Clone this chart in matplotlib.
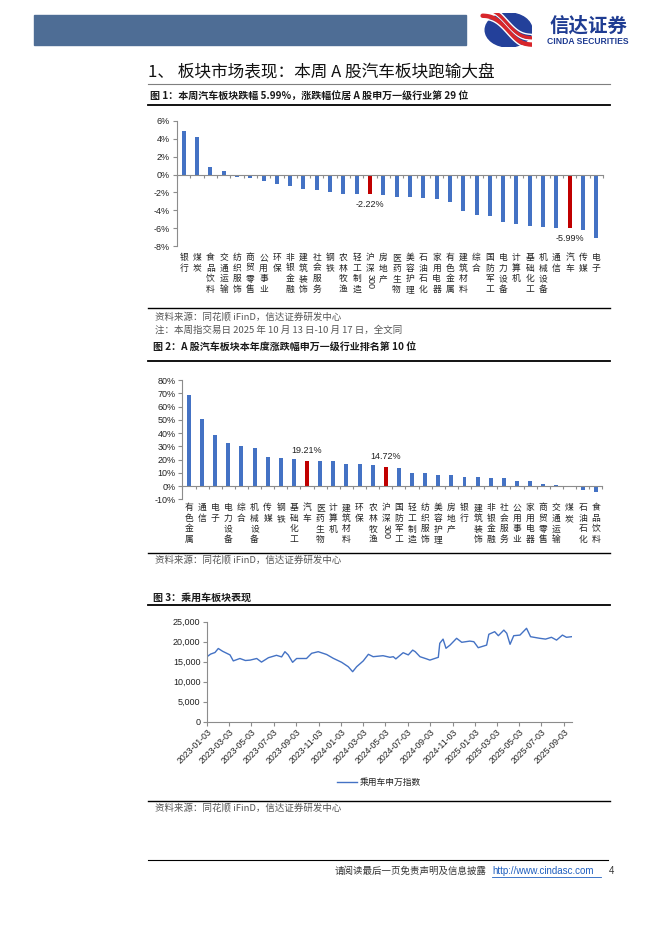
import numpy as np
import pandas as pd
import matplotlib
matplotlib.use('Agg')
import matplotlib.pyplot as plt
from matplotlib.lines import Line2D
from matplotlib.patches import Rectangle, Ellipse

# ---- data ----
cats1 = ['银行', '煤炭', '食品饮料', '交通运输', '纺织服饰', '商贸零售', '公用事业', '环保',
         '非银金融', '建筑装饰', '社会服务', '钢铁', '农林牧渔', '轻工制造', '沪深300', '房地产',
         '医药生物', '美容护理', '石油石化', '家用电器', '有色金属', '建筑材料', '综合', '国防军工',
         '电力设备', '计算机', '基础化工', '机械设备', '通信', '汽车', '传媒', '电子']
vals1 = [4.9, 4.2, 0.9, 0.42, -0.26, -0.38, -0.72, -1.02, -1.32, -1.62, -1.74, -1.92, -2.15,
         -2.2, -2.22, -2.3, -2.49, -2.5, -2.6, -2.72, -3.02, -4.08, -4.53, -4.68, -5.32, -5.55,
         -5.77, -5.89, -5.96, -5.99, -6.23, -7.09]

cats2 = ['有色金属', '通信', '电子', '电力设备', '综合', '机械设备', '传媒', '钢铁', '基础化工', '汽车',
         '医药生物', '计算机', '建筑材料', '环保', '农林牧渔', '沪深300', '国防军工', '轻工制造',
         '纺织服饰', '美容护理', '房地产', '银行', '建筑装饰', '非银金融', '社会服务', '公用事业',
         '家用电器', '商贸零售', '交通运输', '煤炭', '石油石化', '食品饮料']
vals2 = [69.0, 50.3, 38.8, 32.3, 30.0, 28.5, 21.8, 21.0, 20.3, 19.21, 19.0, 18.9, 16.5, 16.4,
         15.8, 14.72, 13.5, 9.8, 9.7, 8.3, 8.2, 6.8, 6.7, 6.0, 5.9, 3.8, 3.7, 1.8, 0.5, -0.1,
         -2.8, -4.5]

highlight = ['汽车', '沪深300']

dates3 = ['2023-01-03', '2023-01-12', '2023-01-24', '2023-02-02', '2023-02-14', '2023-03-06',
          '2023-03-15', '2023-04-02', '2023-04-17', '2023-04-30', '2023-05-18', '2023-05-31',
          '2023-06-19', '2023-07-11', '2023-07-25', '2023-08-03', '2023-08-12', '2023-08-24',
          '2023-09-04', '2023-10-01', '2023-10-15', '2023-11-02', '2023-11-25', '2023-12-13',
          '2024-01-05', '2024-01-23', '2024-02-04', '2024-02-15', '2024-03-04', '2024-03-18',
          '2024-03-31', '2024-04-27', '2024-05-16', '2024-05-25', '2024-06-01', '2024-06-21',
          '2024-07-05', '2024-07-17', '2024-07-24', '2024-08-06', '2024-08-24', '2024-09-02',
          '2024-09-25', '2024-09-29', '2024-10-08', '2024-10-16', '2024-10-27', '2024-11-14',
          '2024-11-28', '2024-12-20', '2024-12-31', '2025-01-12', '2025-02-04', '2025-02-10',
          '2025-02-26', '2025-03-08', '2025-03-23', '2025-03-31', '2025-04-09', '2025-04-19',
          '2025-05-06', '2025-05-24', '2025-06-04', '2025-06-29', '2025-07-15', '2025-07-31',
          '2025-08-14', '2025-08-30', '2025-09-10', '2025-09-24']
vals3 = [16300, 16900, 17300, 18300, 17600, 16700, 15200, 15800, 15300, 15400, 15800, 14900,
         16000, 16600, 16200, 17500, 16700, 14850, 15800, 15800, 17100, 17500, 16800, 15850,
         14850, 13750, 12500, 13750, 15200, 16850, 16250, 16500, 16100, 16250, 15700, 17250,
         16700, 17900, 17500, 16250, 15700, 15400, 16100, 19600, 20650, 18350, 19150, 20850,
         19850, 20150, 20000, 18500, 19150, 21850, 22500, 21500, 22900, 22100, 19350, 21500,
         21650, 23350, 21250, 20850, 20650, 21100, 20400, 21650, 21100, 21250]
ticks3 = ['2023-01-03', '2023-03-03', '2023-05-03', '2023-07-03', '2023-09-03', '2023-11-03',
          '2024-01-03', '2024-03-03', '2024-05-03', '2024-07-03', '2024-09-03', '2024-11-03',
          '2025-01-03', '2025-03-03', '2025-05-03', '2025-07-03', '2025-09-03']

# ---- page setup ----
W, H = 662, 936
CJK = ['Noto Sans CJK SC', 'DejaVu Sans']
plt.rcParams['font.family'] = ['Liberation Sans', 'Noto Sans CJK SC']
BLUE = '#4472c4'
RED = '#c00000'
AXC = '#8c8c8c'

fig = plt.figure(figsize=(W / 100, H / 100), dpi=100)


def fx(x):
    return x / W


def fy(y):
    return 1 - y / H


def add_ax(l, t, r, b):
    return fig.add_axes([fx(l), fy(b), (r - l) / W, (b - t) / H])


def hline(y, x0=148, x1=610, color='black', lw=1.0):
    fig.add_artist(Line2D([fx(x0), fx(x1)], [fy(y), fy(y)], color=color, lw=lw))


def ftext(x, y, s, **kw):
    kw.setdefault('family', CJK)
    kw.setdefault('va', 'center')
    fig.text(fx(x), fy(y), s, **kw)


def cat_labels(ax, cats, top_px):
    step = 10.6 * 0.72
    for i, name in enumerate(cats):
        k = 0.0
        j = 0
        while j < len(name):
            if name[j].isdigit():
                num = ''
                while j < len(name) and name[j].isdigit():
                    num += name[j]
                    j += 1
                ax.annotate(num, xy=(i, 0), xycoords=('data', 'axes fraction'),
                            xytext=(0, -top_px * 0.72 - k * step), textcoords='offset points',
                            rotation=-90, ha='center', va='top', fontsize=6.5, color='#222222')
                k += len(num) * 0.6
            else:
                ax.annotate(name[j], xy=(i, 0), xycoords=('data', 'axes fraction'),
                            xytext=(0, -top_px * 0.72 - k * step), textcoords='offset points',
                            ha='center', va='top', fontsize=6.3, family=CJK, color='#222222')
                k += 1
                j += 1


def bar_chart(ax, cats, vals, ymin, ymax, ystep, top_px):
    n = len(cats)
    colors = [RED if c in highlight else BLUE for c in cats]
    ax.bar(np.arange(n), vals, width=0.3, color=colors, zorder=2)
    ax.set_xlim(-0.5, n - 0.5)
    ax.set_ylim(ymin, ymax)
    ax.set_yticks(np.arange(ymin, ymax + ystep / 2, ystep))
    ax.set_yticklabels(['%d%%' % v for v in np.arange(ymin, ymax + ystep / 2, ystep)])
    ax.set_xticks(np.arange(n + 1) - 0.5)
    ax.set_xticklabels([])
    for s in ['top', 'right']:
        ax.spines[s].set_visible(False)
    ax.spines['bottom'].set_position(('data', 0))
    for s in ['left', 'bottom']:
        ax.spines[s].set_color(AXC)
        ax.spines[s].set_linewidth(0.8)
    ax.tick_params(axis='y', length=3, width=0.8, color=AXC, labelsize=6.5, pad=2,
                   labelcolor='#222222')
    ax.tick_params(axis='x', length=2.5, width=0.8, color=AXC, direction='out')
    ax.set_facecolor('none')
    cat_labels(ax, cats, top_px)
    for c, v in zip(cats, vals):
        if c in highlight:
            i = cats.index(c)
            off = 4 if v > 0 else -4
            ax.annotate('%.2f%%' % v, xy=(i, v), xytext=(0, off), textcoords='offset points',
                        ha='center', va='bottom' if v > 0 else 'top', fontsize=6.5,
                        color='#222222')


# ---- header ----
fig.add_artist(Rectangle((fx(34), fy(45)), (466 - 34) / W, 30 / H, color='#4e6d95',
                         transform=fig.transFigure))
logo = fig.add_axes([fx(480), fy(47), 52 / W, 34 / H])
logo.set_xlim(0, 1)
logo.set_ylim(0, 1)
logo.axis('off')
logo.add_patch(Ellipse((0.55, 0.5), 0.9, 1.0, color='#23409a'))
t = np.linspace(0, 1, 60)
for d, c, lw in [(0.0, '#d7262b', 3.2), (0.13, 'white', 1.2), (0.2, '#d7262b', 2.4),
                 (0.3, 'white', 1.0), (-0.1, 'white', 1.0)]:
    logo.plot(0.05 + 0.95 * t, 0.92 - 0.85 * t + 0.12 * np.sin(2 * np.pi * t) + d,
              color=c, lw=lw, solid_capstyle='round')
ftext(588, 26, '信达证券', fontsize=14, weight='bold', color='#1f3c92', ha='center')
fig.text(fx(588), fy(42), 'CINDA SECURITIES', fontsize=6.2, weight='bold', color='#1f3c92',
         ha='center', va='center', family=['Liberation Sans'])

# ---- section title ----
ftext(148, 73, '1、 板块市场表现：本周 A 股汽车板块跑输大盘', fontsize=12, color='#111111')
hline(84, color='#7f7f7f', lw=0.8)

# ---- figure 1 ----
ftext(150, 97, '图 1：本周汽车板块跌幅 5.99%，涨跌幅位居 A 股申万一级行业第 29 位', fontsize=7.2,
      weight='bold', color='#1a1a1a')
hline(104.5, lw=1.3)
ax1 = add_ax(177, 121, 603, 246)
bar_chart(ax1, cats1, vals1, -8, 6, 2, 7)
hline(308, lw=1.0)
ftext(155, 317, '资料来源：同花顺 iFinD，信达证券研发中心', fontsize=6.8, color='#555555')
ftext(155, 330, '注：本周指交易日 2025 年 10 月 13 日-10 月 17 日，全文同', fontsize=6.8,
      color='#555555')

# ---- figure 2 ----
ftext(153, 348, '图 2：A 股汽车板块本年度涨跌幅申万一级行业排名第 10 位', fontsize=7.2,
      weight='bold', color='#1a1a1a')
hline(361, lw=1.3)
ax2 = add_ax(182.4, 380, 602.3, 499.3)
bar_chart(ax2, cats2, vals2, -10, 80, 10, 4)
hline(553, lw=1.0)
ftext(155, 559.5, '资料来源：同花顺 iFinD，信达证券研发中心', fontsize=6.8, color='#555555')

# ---- figure 3 ----
ftext(153, 598, '图 3：乘用车板块表现', fontsize=7.2, weight='bold', color='#1a1a1a')
hline(605, lw=1.3)
ax3 = add_ax(207.3, 621.7, 572.3, 721.7)
d3 = pd.to_datetime(dates3)
ax3.plot(d3, vals3, color=BLUE, lw=1.0)
tk = pd.to_datetime(ticks3)
ax3.set_xticks(tk)
ax3.set_xticklabels(ticks3, rotation=45, ha='right', rotation_mode='anchor', fontsize=6.3,
                    color='#222222')
ax3.set_xlim(pd.Timestamp('2023-01-03'), pd.Timestamp('2025-09-26'))
ax3.set_ylim(0, 25000)
ax3.set_yticks(np.arange(0, 25001, 5000))
ax3.set_yticklabels(['{:,}'.format(v) for v in range(0, 25001, 5000)])
for s in ['top', 'right']:
    ax3.spines[s].set_visible(False)
for s in ['left', 'bottom']:
    ax3.spines[s].set_color(AXC)
    ax3.spines[s].set_linewidth(0.8)
ax3.tick_params(axis='y', length=3, width=0.8, color=AXC, labelsize=6.5, pad=2,
                labelcolor='#222222')
ax3.tick_params(axis='x', length=3, width=0.8, color=AXC, pad=1)
fig.add_artist(Line2D([fx(337), fx(357)], [fy(782), fy(782)], color=BLUE, lw=1.0))
ftext(360, 782, '乘用车申万指数', fontsize=6.3, color='#222222')
hline(801, lw=1.0)
ftext(155, 808, '资料来源：同花顺 iFinD，信达证券研发中心', fontsize=6.8, color='#555555')

# ---- footer ----
hline(860, x0=148, x1=608, lw=0.8)
ftext(335, 871, '请阅读最后一页免责声明及信息披露', fontsize=6.8, color='#333333')
fig.text(fx(492), fy(871), 'http://www.cindasc.com', fontsize=7, color='#1f5fbf',
         va='center', family=['Liberation Sans'])
fig.add_artist(Line2D([fx(492), fx(601)], [fy(876.5), fy(876.5)], color='#1f5fbf', lw=0.6))
fig.text(fx(609), fy(871), '4', fontsize=7, color='#333333', va='center',
         family=['Liberation Sans'])

fig.savefig('out.png', dpi=100)
